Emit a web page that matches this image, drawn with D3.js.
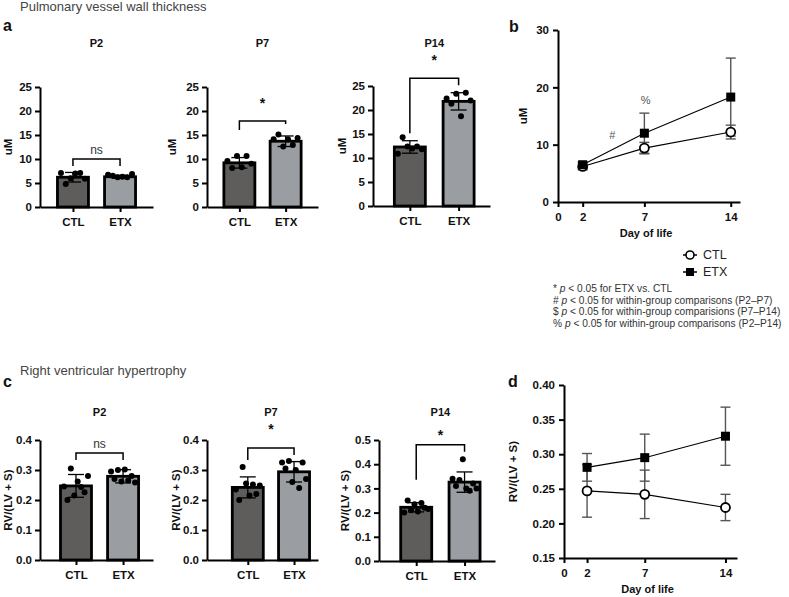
<!DOCTYPE html>
<html>
<head>
<meta charset="utf-8">
<script src="https://cdn.jsdelivr.net/npm/d3@7"></script>
<style>
body{margin:0;background:#fff;}
svg{font-family:'Liberation Sans',Arial,Helvetica,sans-serif;}
</style>
</head>
<body>
<div id="fig"></div>
<script>
var groups = ['CTL', 'ETX'];
var ages = ['P2', 'P7', 'P14'];
var days = [2, 7, 14];

// a: vessel wall thickness (uM) per age
var wallMeanCTL = [6.2, 9.2, 12.3];
var wallMeanETX = [6.3, 13.7, 21.8];
var wallSdCTL = [1.0, 1.1, 1.3];
var wallSdETX = [0.3, 1.1, 1.8];
var wallDotsCTL = [[7.1, 4.8, 6.0, 7.0, 7.1, 5.9], [9.6, 8.1, 10.6, 8.3, 10.6, 9.0], [10.9, 14.3, 12.4, 12.0, 12.4, 11.8]];
var wallDotsETX = [[6.7, 6.5, 6.2, 6.3, 6.2, 6.9], [14.1, 15.1, 12.6, 14.1, 12.9, 14.4], [22.4, 21.3, 23.4, 18.7, 23.6, 22.0]];
var wallTicks = [0, 5, 10, 15, 20, 25];
var wallSig = ['ns', '*', '*'];
var wallBracket = [10, 17.9, 26.6];

// b: wall thickness over time
var wallLineCTL = [6.2, 9.4, 12.2];
var wallLineETX = [6.5, 12.0, 18.3];
var wallLineSdCTL = [0.6, 1.0, 1.2];
var wallLineSdETX = [0.5, 3.5, 6.8];
var wallLineTicks = [0, 10, 20, 30];

// c: RV/(LV + S) per age
var rvMeanCTL = [0.247, 0.242, 0.222];
var rvMeanETX = [0.279, 0.294, 0.326];
var rvSdCTL = [0.038, 0.035, 0.019];
var rvSdETX = [0.022, 0.034, 0.042];
var rvDotsCTL = [[0.245, 0.200, 0.305, 0.215, 0.262, 0.243, 0.226, 0.280],
                 [0.235, 0.200, 0.310, 0.255, 0.215, 0.252, 0.220, 0.248],
                 [0.200, 0.250, 0.210, 0.235, 0.205, 0.240, 0.220, 0.215]];
var rvDotsETX = [[0.295, 0.270, 0.300, 0.262, 0.302, 0.265, 0.280, 0.258],
                 [0.325, 0.305, 0.330, 0.260, 0.300, 0.240, 0.325, 0.270],
                 [0.340, 0.310, 0.335, 0.420, 0.300, 0.290, 0.320, 0.300]];
var rvTicks = [[0, 0.1, 0.2, 0.3, 0.4], [0, 0.1, 0.2, 0.3, 0.4], [0, 0.1, 0.2, 0.3, 0.4, 0.5]];
var rvSig = ['ns', '*', '*'];
var rvBracket = [0.357, 0.373, 0.48];

// d: RV/(LV + S) over time
var rvLineCTL = [0.247, 0.242, 0.223];
var rvLineETX = [0.281, 0.295, 0.326];
var rvLineSdCTL = [0.038, 0.035, 0.019];
var rvLineSdETX = [0.020, 0.034, 0.042];
var rvLineTicks = [0.15, 0.20, 0.25, 0.30, 0.35, 0.40];

var xTicks = [0, 2, 7, 14];
var barFill = ['#5f5c5c', '#9a9ea2'];

var svg = d3.select('#fig').append('svg')
    .attr('width', 789)
    .attr('height', 597);

function styleAxis(g) {
    g.selectAll('path, line').attr('stroke', '#000').attr('stroke-width', 2);
    g.selectAll('text').attr('fill', '#111').style('font-size', '11.5px').style('font-weight', 'bold');
}

function drawBars(c) {
    var g = svg.append('g');
    var x = d3.scalePoint().domain(groups).range([c.left, c.right]).padding(0.7).align(c.align);
    var y = d3.scaleLinear().domain([0, c.max]).range([c.bottom, c.top]);
    var bw = 31;
    var data = groups.map(function (k, i) {
        return {key: k, mean: c.means[i], sd: c.sds[i], dots: c.dots[i], i: i};
    });

    g.selectAll('rect').data(data).enter().append('rect')
        .attr('x', function (d) { return x(d.key) - bw / 2; })
        .attr('y', function (d) { return y(d.mean); })
        .attr('width', bw)
        .attr('height', function (d) { return y(0) - y(d.mean); })
        .attr('fill', function (d) { return barFill[d.i]; })
        .attr('stroke', '#000')
        .attr('stroke-width', 2.8);

    // error bars
    var eb = g.selectAll('.eb').data(data).enter().append('g');
    eb.append('line')
        .attr('x1', function (d) { return x(d.key); })
        .attr('x2', function (d) { return x(d.key); })
        .attr('y1', function (d) { return y(d.mean - d.sd); })
        .attr('y2', function (d) { return y(d.mean + d.sd); });
    eb.append('line')
        .attr('x1', function (d) { return x(d.key) - 8; })
        .attr('x2', function (d) { return x(d.key) + 8; })
        .attr('y1', function (d) { return y(d.mean + d.sd); })
        .attr('y2', function (d) { return y(d.mean + d.sd); });
    eb.append('line')
        .attr('x1', function (d) { return x(d.key) - 8; })
        .attr('x2', function (d) { return x(d.key) + 8; })
        .attr('y1', function (d) { return y(d.mean - d.sd); })
        .attr('y2', function (d) { return y(d.mean - d.sd); });
    eb.selectAll('line').attr('stroke', '#000').attr('stroke-width', 1.3);

    // single animals
    data.forEach(function (d) {
        var n = d.dots.length;
        g.append('g').selectAll('circle').data(d.dots).enter().append('circle')
            .attr('cx', function (v, j) { return x(d.key) + (j / (n - 1) - 0.5) * 24; })
            .attr('cy', function (v) { return y(v); })
            .attr('r', 3)
            .attr('fill', '#000');
    });

    // axes
    var gy = g.append('g').attr('transform', 'translate(' + c.left + ',0)')
        .call(d3.axisLeft(y).tickValues(c.ticks).tickFormat(c.fmt).tickSize(5).tickSizeOuter(0).tickPadding(3));
    styleAxis(gy);
    var gx = g.append('g').attr('transform', 'translate(0,' + c.bottom + ')')
        .call(d3.axisBottom(x).tickSize(5).tickSizeOuter(0).tickPadding(6));
    styleAxis(gx);

    // bracket + significance
    var xa = x(groups[0]), xb = x(groups[1]), yb = y(c.bracket);
    g.append('path')
        .attr('d', 'M' + xa + ',' + (yb + c.legs[0]) + 'V' + yb + 'H' + xb + 'V' + (yb + c.legs[1]))
        .attr('fill', 'none')
        .attr('stroke', '#000')
        .attr('stroke-width', 1.5);
    g.append('text')
        .attr('x', (xa + xb) / 2)
        .attr('y', yb - c.sigGap)
        .attr('text-anchor', 'middle')
        .style('font-size', c.sig === 'ns' ? '12px' : '14px')
        .style('font-weight', c.sig === 'ns' ? 'normal' : 'bold')
        .attr('fill', c.sig === 'ns' ? '#333' : '#111')
        .text(c.sig);

    // title and y label
    g.append('text')
        .attr('x', (xa + xb) / 2)
        .attr('y', c.titleY)
        .attr('text-anchor', 'middle')
        .style('font-size', '11px')
        .style('font-weight', 'bold')
        .attr('fill', '#111')
        .text(c.title);
    g.append('text')
        .attr('transform', 'translate(' + c.labelX + ',' + (c.top + c.bottom) / 2 + ') rotate(-90)')
        .attr('text-anchor', 'middle')
        .attr('dy', '0.35em')
        .style('font-size', '11.5px')
        .style('font-weight', 'bold')
        .attr('fill', '#111')
        .text(c.yLabel);
}

function drawLines(c) {
    var g = svg.append('g');
    var x = d3.scaleLinear().domain([0, c.xMax]).range([c.left, c.right]);
    var y = d3.scaleLinear().domain(c.yDom).range([c.bottom, c.top]);
    var series = [
        {name: 'CTL', mean: c.ctl, sd: c.ctlSd},
        {name: 'ETX', mean: c.etx, sd: c.etxSd}
    ];

    var gy = g.append('g').attr('transform', 'translate(' + c.left + ',0)')
        .call(d3.axisLeft(y).tickValues(c.ticks).tickFormat(c.fmt).tickSize(5).tickSizeOuter(0).tickPadding(4));
    styleAxis(gy);
    var gx = g.append('g').attr('transform', 'translate(0,' + c.bottom + ')')
        .call(d3.axisBottom(x).tickValues(xTicks).tickFormat(d3.format('d')).tickSize(5).tickSizeOuter(0).tickPadding(6));
    styleAxis(gx);

    // error bars
    series.forEach(function (s) {
        var eg = g.append('g').attr('stroke', '#555').attr('stroke-width', 1.4);
        days.forEach(function (day, i) {
            var cx = x(day), hi = y(s.mean[i] + s.sd[i]), lo = y(s.mean[i] - s.sd[i]);
            eg.append('line').attr('x1', cx).attr('x2', cx).attr('y1', lo).attr('y2', hi);
            eg.append('line').attr('x1', cx - 5).attr('x2', cx + 5).attr('y1', hi).attr('y2', hi);
            eg.append('line').attr('x1', cx - 5).attr('x2', cx + 5).attr('y1', lo).attr('y2', lo);
        });
    });

    var line = d3.line()
        .x(function (d, i) { return x(days[i]); })
        .y(function (d) { return y(d); });
    series.forEach(function (s) {
        g.append('path')
            .attr('d', line(s.mean))
            .attr('fill', 'none')
            .attr('stroke', '#000')
            .attr('stroke-width', 1.1);
    });

    g.append('g').selectAll('circle').data(c.ctl).enter().append('circle')
        .attr('cx', function (d, i) { return x(days[i]); })
        .attr('cy', function (d) { return y(d); })
        .attr('r', 4.5)
        .attr('fill', '#fff')
        .attr('stroke', '#000')
        .attr('stroke-width', 1.8);
    g.append('g').selectAll('rect').data(c.etx).enter().append('rect')
        .attr('x', function (d, i) { return x(days[i]) - 4.5; })
        .attr('y', function (d) { return y(d) - 4.5; })
        .attr('width', 9)
        .attr('height', 9)
        .attr('fill', '#000');

    g.append('text')
        .attr('transform', 'translate(' + c.labelX + ',' + (c.top + c.bottom) / 2 + ') rotate(-90)')
        .attr('text-anchor', 'middle')
        .attr('dy', '0.35em')
        .style('font-size', '11.5px')
        .style('font-weight', 'bold')
        .attr('fill', '#111')
        .text(c.yLabel);
    g.append('text')
        .attr('x', (c.left + c.right) / 2 - 3)
        .attr('y', c.bottom + 35)
        .attr('text-anchor', 'middle')
        .style('font-size', '11px')
        .style('font-weight', 'bold')
        .attr('fill', '#111')
        .text('Day of life');

    (c.notes || []).forEach(function (n) {
        g.append('text')
            .attr('x', x(n[1]))
            .attr('y', y(n[2]))
            .attr('text-anchor', 'middle')
            .attr('dy', '0.35em')
            .style('font-size', '11px')
            .attr('fill', '#555')
            .text(n[0]);
    });
}

// section headings and panel letters
function heading(txt, x, y) {
    svg.append('text').attr('x', x).attr('y', y)
        .style('font-size', '13px').attr('fill', '#444').text(txt);
}
function letter(txt, x, y) {
    svg.append('text').attr('x', x).attr('y', y)
        .style('font-size', '16px').style('font-weight', 'bold').attr('fill', '#111').text(txt);
}
heading('Pulmonary vessel wall thickness', 20, 11);
heading('Right ventricular hypertrophy', 20, 375);
letter('a', 3, 31);
letter('b', 509, 32);
letter('c', 3, 387);
letter('d', 508, 387);

// a
var aLayout = [
    {left: 40, right: 153, top: 87, bottom: 207, align: 0.5, legs: [7, 7], gap: 5, labelX: 8},
    {left: 207, right: 318, top: 87, bottom: 207, align: 0.5, legs: [9, 3], gap: 13, labelX: 172},
    {left: 373, right: 490, top: 86, bottom: 206, align: 0.54, legs: [55, 7], gap: 13, labelX: 342}
];
ages.forEach(function (age, i) {
    var l = aLayout[i];
    drawBars({
        left: l.left, right: l.right, top: l.top, bottom: l.bottom, align: l.align,
        max: 25, ticks: wallTicks, fmt: d3.format('d'),
        means: [wallMeanCTL[i], wallMeanETX[i]], sds: [wallSdCTL[i], wallSdETX[i]],
        dots: [wallDotsCTL[i], wallDotsETX[i]],
        bracket: wallBracket[i], legs: l.legs, sig: wallSig[i], sigGap: l.gap,
        title: age, titleY: 47, labelX: l.labelX, yLabel: 'uM'
    });
});

// c
var cLayout = [
    {left: 40, right: 153, top: 440, bottom: 560, align: 0.546, legs: [7, 7], gap: 5, labelX: 8},
    {left: 207, right: 318, top: 440, bottom: 560, align: 0.63, legs: [12, 7], gap: 14, labelX: 176},
    {left: 379, right: 495, top: 440, bottom: 561, align: 0.55, legs: [35, 7], gap: 5, labelX: 345}
];
ages.forEach(function (age, i) {
    var l = cLayout[i];
    var ticks = rvTicks[i];
    drawBars({
        left: l.left, right: l.right, top: l.top, bottom: l.bottom, align: l.align,
        max: ticks[ticks.length - 1], ticks: ticks, fmt: d3.format('.1f'),
        means: [rvMeanCTL[i], rvMeanETX[i]], sds: [rvSdCTL[i], rvSdETX[i]],
        dots: [rvDotsCTL[i], rvDotsETX[i]],
        bracket: rvBracket[i], legs: l.legs, sig: rvSig[i], sigGap: l.gap,
        title: age, titleY: 416, labelX: l.labelX, yLabel: 'RV/(LV + S)'
    });
});

// b
drawLines({
    left: 558, right: 740, top: 30, bottom: 202, xMax: 14.75,
    yDom: [0, 30], ticks: wallLineTicks, fmt: d3.format('d'),
    ctl: wallLineCTL, etx: wallLineETX, ctlSd: wallLineSdCTL, etxSd: wallLineSdETX,
    labelX: 523, yLabel: 'uM',
    notes: [['#', 4.4, 11.7], ['%', 7.1, 17.8]]
});

// d
drawLines({
    left: 564, right: 737, top: 385, bottom: 558, xMax: 15,
    yDom: [0.15, 0.40], ticks: rvLineTicks, fmt: d3.format('.2f'),
    ctl: rvLineCTL, etx: rvLineETX, ctlSd: rvLineSdCTL, etxSd: rvLineSdETX,
    labelX: 513, yLabel: 'RV/(LV + S)'
});

// legend
var leg = svg.append('g').attr('transform', 'translate(683,0)');
groups.forEach(function (name, i) {
    var ly = 255 + i * 17;
    leg.append('line').attr('x1', 0).attr('x2', 14).attr('y1', ly).attr('y2', ly)
        .attr('stroke', '#000').attr('stroke-width', 1.5);
    if (i === 0) {
        leg.append('circle').attr('cx', 7).attr('cy', ly).attr('r', 4)
            .attr('fill', '#fff').attr('stroke', '#000').attr('stroke-width', 1.6);
    } else {
        leg.append('rect').attr('x', 3).attr('y', ly - 4).attr('width', 8).attr('height', 8).attr('fill', '#000');
    }
    leg.append('text').attr('x', 20).attr('y', ly).attr('dy', '0.35em')
        .style('font-size', '12.5px').attr('fill', '#222').text(name);
});

// footnotes
var notes = [
    ['* ', ' < 0.05 for ETX vs. CTL'],
    ['# ', ' < 0.05 for within-group comparisons (P2\u2013P7)'],
    ['$ ', ' < 0.05 for within-group comparisions (P7\u2013P14)'],
    ['% ', ' < 0.05 for within-group comparisons (P2\u2013P14)']
];
notes.forEach(function (n, i) {
    var t = svg.append('text').attr('x', 553).attr('y', 292 + i * 11.6)
        .style('font-size', '10.2px').attr('fill', '#333');
    t.append('tspan').text(n[0]);
    t.append('tspan').style('font-style', 'italic').text('p');
    t.append('tspan').text(n[1]);
});
</script>
</body>
</html>
